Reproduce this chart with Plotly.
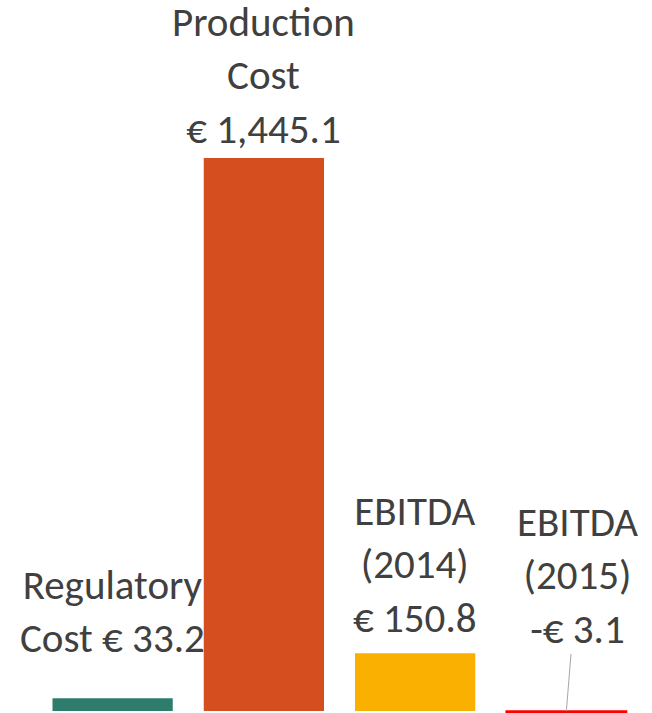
import plotly.graph_objects as go

categories = ["Regulatory Cost", "Production Cost", "EBITDA (2014)", "EBITDA (2015)"]
values = [33.2, 1445.1, 150.8, -3.1]
label_texts = ["Regulatory<br>Cost € 33.2",
               "Production<br>Cost<br>€ 1,445.1",
               "EBITDA<br>(2014)<br>€ 150.8",
               "EBITDA<br>(2015)<br>-€ 3.1"]
colors = ["#2E7D6C", "#D54E1F", "#FAB000", "#FF0000"]

FONT = "Carlito, Lato, sans-serif"
TXT = "#404040"
FS = 41

fig = go.Figure()
fig.add_trace(go.Bar(
    x=categories, y=values,
    marker=dict(color=colors,
                line=dict(color=colors, width=[0, 0, 0, 1.6])),
    width=0.795, hoverinfo="skip",
))

yshifts = [34, 3, 9]
for i in range(3):
    fig.add_annotation(x=categories[i], y=values[i], text=label_texts[i],
                       showarrow=False, yanchor="bottom", xanchor="center",
                       yshift=yshifts[i], borderpad=0,
                       font=dict(family=FONT, size=FS, color=TXT))
fig.add_annotation(x=categories[3], y=0, text=label_texts[3],
                   showarrow=True, arrowhead=0, arrowwidth=1,
                   arrowcolor="#A6A6A6", ax=11, ay=-136, borderpad=0,
                   font=dict(family=FONT, size=FS, color=TXT))

fig.update_layout(
    width=652, height=713,
    margin=dict(l=37, r=10, t=0, b=0),
    paper_bgcolor="white", plot_bgcolor="white",
    showlegend=False,
    xaxis=dict(visible=False, range=[-0.5, 3.5]),
    yaxis=dict(visible=False, range=[-5.2, 1857.9]),
)
fig.write_html("out.html", config={"displayModeBar": False},
               post_script="document.body.style.margin='0';document.body.style.overflow='hidden';")
